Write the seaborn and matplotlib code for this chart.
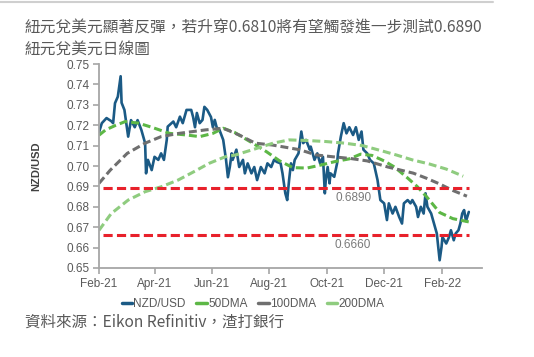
import numpy as np
import pandas as pd
import matplotlib
matplotlib.use('Agg')
import matplotlib.pyplot as plt
import matplotlib.dates as mdates
from matplotlib.lines import Line2D
import seaborn as sns

# NZD/USD spot
spot_dates = [
    '2021-02-01', '2021-02-04', '2021-02-09', '2021-02-14', '2021-02-16', '2021-02-18',
    '2021-02-21', '2021-02-24', '2021-02-25', '2021-02-28', '2021-03-04', '2021-03-07',
    '2021-03-11', '2021-03-14', '2021-03-18', '2021-03-22', '2021-03-23', '2021-03-25',
    '2021-03-29', '2021-04-01', '2021-04-05', '2021-04-08', '2021-04-11', '2021-04-14',
    '2021-04-15', '2021-04-21', '2021-04-24', '2021-04-28', '2021-05-01', '2021-05-05',
    '2021-05-10', '2021-05-12', '2021-05-14', '2021-05-16', '2021-05-19', '2021-05-22',
    '2021-05-24', '2021-05-27', '2021-05-31', '2021-06-02', '2021-06-04', '2021-06-06',
    '2021-06-09', '2021-06-13', '2021-06-15', '2021-06-16', '2021-06-18', '2021-06-20',
    '2021-06-22', '2021-06-23', '2021-06-27', '2021-06-30', '2021-07-04', '2021-07-06',
    '2021-07-09', '2021-07-13', '2021-07-16', '2021-07-19', '2021-07-23', '2021-07-27',
    '2021-07-30', '2021-08-03', '2021-08-06', '2021-08-09', '2021-08-13', '2021-08-15',
    '2021-08-18', '2021-08-20', '2021-08-22', '2021-08-24', '2021-08-26', '2021-08-28',
    '2021-09-01', '2021-09-02', '2021-09-04', '2021-09-06', '2021-09-09', '2021-09-13',
    '2021-09-14', '2021-09-18', '2021-09-21', '2021-09-24', '2021-09-27', '2021-09-29',
    '2021-09-30', '2021-10-02', '2021-10-04', '2021-10-05', '2021-10-09', '2021-10-12',
    '2021-10-13', '2021-10-16', '2021-10-19', '2021-10-22', '2021-10-25', '2021-10-29',
    '2021-11-01', '2021-11-04', '2021-11-07', '2021-11-09', '2021-11-13', '2021-11-16',
    '2021-11-20', '2021-11-24', '2021-11-27', '2021-12-01', '2021-12-04', '2021-12-06',
    '2021-12-10', '2021-12-13', '2021-12-17', '2021-12-20', '2021-12-22', '2021-12-26',
    '2021-12-29', '2021-12-31', '2022-01-04', '2022-01-06', '2022-01-09', '2022-01-12',
    '2022-01-14', '2022-01-16', '2022-01-20', '2022-01-23', '2022-01-26', '2022-01-29',
    '2022-01-31', '2022-02-01', '2022-02-05', '2022-02-08', '2022-02-10', '2022-02-13',
    '2022-02-15', '2022-02-18', '2022-02-20', '2022-02-22', '2022-02-24', '2022-02-26',
    '2022-03-01',
]
spot_values = [
    0.7165, 0.7210, 0.7235, 0.7220, 0.7210, 0.7308,
    0.7340, 0.7440, 0.7310, 0.7275, 0.7144, 0.7225,
    0.7190, 0.7225, 0.7177, 0.7112, 0.6964, 0.7030,
    0.6980, 0.7045, 0.7030, 0.7062, 0.7030, 0.7128,
    0.7193, 0.7218, 0.7190, 0.7242, 0.7210, 0.7275,
    0.7275, 0.7240, 0.7190, 0.7260, 0.7210, 0.7226,
    0.7290, 0.7275, 0.7240, 0.7190, 0.7226, 0.7190,
    0.7177, 0.7128, 0.7062, 0.7030, 0.6945, 0.6995,
    0.7062, 0.7030, 0.7080, 0.6995, 0.7030, 0.6964,
    0.7013, 0.6964, 0.6995, 0.6931, 0.6995, 0.6964,
    0.7013, 0.6995, 0.7030, 0.7020, 0.7013, 0.6964,
    0.6866, 0.6833, 0.6931, 0.7013, 0.6980, 0.7030,
    0.7062, 0.7095, 0.7169, 0.7112, 0.7128, 0.7080,
    0.7095, 0.7030, 0.7062, 0.7013, 0.7045, 0.6866,
    0.6931, 0.6995, 0.6915, 0.6964, 0.6947, 0.7013,
    0.7062, 0.7144, 0.7210, 0.7160, 0.7190, 0.7152,
    0.7190, 0.7128, 0.7169, 0.7080, 0.7062, 0.7030,
    0.7013, 0.6931, 0.6833, 0.6817, 0.6735, 0.6817,
    0.6767, 0.6800, 0.6750, 0.6718, 0.6817, 0.6833,
    0.6817, 0.6833, 0.6800, 0.6750, 0.6800, 0.6767,
    0.6866, 0.6800, 0.6767, 0.6718, 0.6669, 0.6538,
    0.6603, 0.6652, 0.6620, 0.6652, 0.6685, 0.6636,
    0.6669, 0.6685, 0.6718, 0.6767, 0.6784, 0.6730,
    0.6775,
]

dma50_dates = [
    '2021-02-01', '2021-02-08', '2021-02-19', '2021-03-01', '2021-03-15', '2021-03-29',
    '2021-04-17', '2021-05-05', '2021-05-19', '2021-06-02', '2021-06-13', '2021-06-25',
    '2021-07-15', '2021-07-29', '2021-08-12', '2021-08-26', '2021-09-10', '2021-09-25',
    '2021-10-10', '2021-10-25', '2021-11-06', '2021-11-18', '2021-12-01', '2021-12-12',
    '2021-12-25', '2022-01-05', '2022-01-15', '2022-01-29', '2022-02-12', '2022-03-01',
]
dma50_values = [
    0.7151, 0.7177, 0.7200, 0.7218, 0.7210, 0.7190,
    0.7160, 0.7152, 0.7144, 0.7160, 0.7185, 0.7165,
    0.7110, 0.7070, 0.7025, 0.6992, 0.6990, 0.7005,
    0.7022, 0.7035, 0.7058, 0.7052, 0.7025, 0.6995,
    0.6945, 0.6900, 0.6850, 0.6772, 0.6742, 0.6726,
]

dma100_dates = [
    '2021-02-01', '2021-02-13', '2021-03-03', '2021-03-22', '2021-04-08', '2021-04-27',
    '2021-05-12', '2021-05-25', '2021-06-13', '2021-06-30', '2021-07-17', '2021-08-04',
    '2021-08-18', '2021-09-02', '2021-09-20', '2021-10-08', '2021-10-26', '2021-11-13',
    '2021-12-05', '2022-01-01', '2022-01-15', '2022-01-29', '2022-02-12', '2022-02-27',
]
dma100_values = [
    0.6915, 0.6980, 0.7062, 0.7112, 0.7144, 0.7160,
    0.7169, 0.7177, 0.7185, 0.7152, 0.7112, 0.7103,
    0.7092, 0.7080, 0.7054, 0.7045, 0.7037, 0.7025,
    0.6995, 0.6965, 0.6940, 0.6912, 0.6880, 0.6852,
]

dma200_dates = [
    '2021-02-01', '2021-02-14', '2021-03-04', '2021-03-22', '2021-04-08', '2021-04-26',
    '2021-05-12', '2021-05-29', '2021-06-15', '2021-06-26', '2021-07-19', '2021-08-05',
    '2021-08-22', '2021-09-10', '2021-09-30', '2021-10-20', '2021-11-08', '2021-11-28',
    '2021-12-14', '2021-12-31', '2022-01-18', '2022-02-05', '2022-02-23',
]
dma200_values = [
    0.6685, 0.6767, 0.6833, 0.6874, 0.6898, 0.6931,
    0.6970, 0.7013, 0.7045, 0.7054, 0.7087, 0.7112,
    0.7128, 0.7125, 0.7120, 0.7112, 0.7100, 0.7075,
    0.7054, 0.7030, 0.7010, 0.6985, 0.6950,
]

levels = [0.6890, 0.6660]
level_labels = ['0.6890', '0.6660']

series_names = ['NZD/USD', '50DMA', '100DMA', '200DMA']
colors = {'NZD/USD': '#1b5a85', '50DMA': '#5db746', '100DMA': '#6f6f6f',
          '200DMA': '#8fcc7f', 'level': '#e8212b'}

title_text = '紐元兌美元顯著反彈，若升穿0.6810將有望觸發進一步測試0.6890'
subtitle_text = '紐元兌美元日線圖'
source_text = '資料來源：Eikon Refinitiv，渣打銀行'

sns.set_style('white')
plt.rcParams['font.family'] = ['Liberation Sans', 'Noto Sans CJK TC', 'DejaVu Sans']
cjk = ['Noto Sans CJK TC', 'DejaVu Sans']

frames = {
    'NZD/USD': pd.DataFrame({'date': pd.to_datetime(spot_dates), 'value': spot_values}),
    '50DMA': pd.DataFrame({'date': pd.to_datetime(dma50_dates), 'value': dma50_values}),
    '100DMA': pd.DataFrame({'date': pd.to_datetime(dma100_dates), 'value': dma100_values}),
    '200DMA': pd.DataFrame({'date': pd.to_datetime(dma200_dates), 'value': dma200_values}),
}

fig = plt.figure(figsize=(5.34, 3.57), dpi=100)
ax = fig.add_axes([0.1854, 0.2493, 0.7172, 0.5714])

for name in series_names:
    df = frames[name]
    if name == 'NZD/USD':
        sns.lineplot(data=df, x='date', y='value', ax=ax, color=colors[name],
                     lw=1.9, estimator=None, solid_joinstyle='round')
    else:
        sns.lineplot(data=df, x='date', y='value', ax=ax, color=colors[name],
                     lw=2.2, estimator=None, linestyle=(0, (2.6, 1.3)),
                     dash_capstyle='butt')

# support / resistance lines
lvl_start = pd.Timestamp('2021-02-05')
lvl_end = pd.Timestamp('2022-03-01')
ax.hlines(levels, lvl_start, lvl_end, colors=colors['level'], lw=2.2,
          linestyles=[(0, (3.0, 1.4))])
for lv, lab in zip(levels, level_labels):
    ax.text(pd.Timestamp('2021-10-29'), lv - 0.0047, lab, ha='center', va='center',
            fontsize=8.5, color='#7a7a7a')

ax.set_xlim(pd.Timestamp('2021-02-01'), pd.Timestamp('2022-03-15'))
ax.set_ylim(0.65, 0.75)
ax.set_yticks(np.arange(0.65, 0.7501, 0.01))
ax.yaxis.set_major_formatter(matplotlib.ticker.FormatStrFormatter('%.2f'))
ax.xaxis.set_major_locator(mdates.MonthLocator(bymonth=[2, 4, 6, 8, 10, 12]))
ax.xaxis.set_major_formatter(mdates.DateFormatter('%b-%y'))
ax.set_xlabel('')
ax.set_ylabel('NZD/USD', fontsize=8, fontweight='bold', color='#404040', labelpad=18)

for side in ['top', 'right']:
    ax.spines[side].set_visible(False)
for side in ['left', 'bottom']:
    ax.spines[side].set_color('#a6a6a6')
    ax.spines[side].set_linewidth(1.3)
ax.tick_params(axis='both', which='major', direction='out', length=4, width=1.2,
               color='#a6a6a6', labelsize=8.5, labelcolor='#595959', pad=3)
ax.tick_params(axis='y', left=True)
ax.tick_params(axis='x', bottom=True)

handles = [Line2D([], [], color=colors[n], lw=2.5) for n in series_names]
fig.legend(handles, series_names, loc='center', bbox_to_anchor=(0.474, 0.148), ncol=4,
           frameon=False, fontsize=8.5, handlelength=0.9, handletextpad=0.1,
           columnspacing=0.9, labelcolor='#595959')

fig.text(25 / 534, 1 - 28 / 357, title_text, family=cjk, fontsize=11.3,
         color='#595959', va='center', ha='left')
fig.text(25 / 534, 1 - 49 / 357, subtitle_text, family=cjk, fontsize=11.3,
         color='#595959', va='center', ha='left')
fig.text(25 / 534, 1 - 322 / 357, source_text, family=cjk, fontsize=11.2,
         color='#595959', va='center', ha='left')

fig.add_artist(Line2D([0, 0.923], [0.995, 0.995], transform=fig.transFigure,
                      color='#cfcfcf', lw=1.5))

fig.savefig('out.png', dpi=100, facecolor='white')
